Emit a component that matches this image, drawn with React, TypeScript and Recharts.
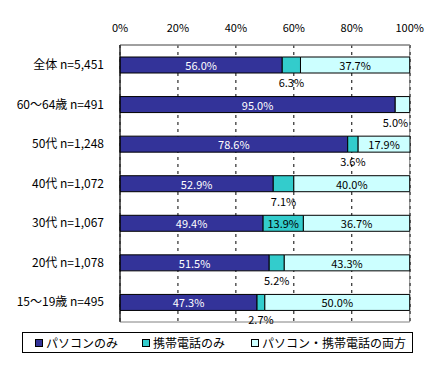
import {
  Bar,
  BarChart,
  CartesianGrid,
  LabelList,
  Legend,
  ReferenceArea,
  XAxis,
  YAxis,
} from "recharts";

const CATEGORIES = [
  "全体 n=5,451",
  "60〜64歳 n=491",
  "50代 n=1,248",
  "40代 n=1,072",
  "30代 n=1,067",
  "20代 n=1,078",
  "15〜19歳 n=495",
];
const PC_ONLY = [56.0, 95.0, 78.6, 52.9, 49.4, 51.5, 47.3];
const MOBILE_ONLY = [6.3, 0, 3.6, 7.1, 13.9, 5.2, 2.7];
const BOTH = [37.7, 5.0, 17.9, 40.0, 36.7, 43.3, 50.0];
const X_TICKS = [0, 20, 40, 60, 80, 100];

const SERIES = [
  { key: "pc", name: "パソコンのみ", color: "#333399" },
  { key: "mobile", name: "携帯電話のみ", color: "#33cccc" },
  { key: "both", name: "パソコン・携帯電話の両方", color: "#ccffff" },
];

const FONT = "'Noto Sans CJK JP', 'Noto Sans', sans-serif";

const rows = CATEGORIES.map((name, i) => ({
  name,
  pc: PC_ONLY[i],
  mobile: MOBILE_ONLY[i],
  both: BOTH[i],
}));

// small segments get their label under the bar instead of inside
function makeLabel(fill: string, shiftSmall = 0) {
  return (props: any) => {
    const { x, y, width, height, value } = props;
    if (!value) return null;
    const small = Number(value) < 10;
    const cx = Number(x) + Number(width) / 2 + (small ? shiftSmall : 0);
    const cy = small ? Number(y) + Number(height) + 9 : Number(y) + Number(height) / 2;
    return (
      <text
        x={cx}
        y={cy}
        fill={small ? "#000" : fill}
        fontSize={11}
        fontFamily={FONT}
        textAnchor="middle"
        dominantBaseline="central"
      >
        {Number(value).toFixed(1)}%
      </text>
    );
  };
}

function LegendBox() {
  const markerLeft = [12, 119, 228];
  return (
    <div style={{ paddingTop: 10, width: 438, fontFamily: FONT }}>
      <div
        style={{
          position: "relative",
          marginLeft: 22,
          width: 389,
          height: 19,
          border: "1px solid #000",
          boxSizing: "content-box",
        }}
      >
        {SERIES.map((s, i) => (
          <div
            key={s.key}
            style={{
              position: "absolute",
              left: markerLeft[i],
              top: 0,
              height: 19,
              display: "flex",
              alignItems: "center",
              gap: 3,
              fontSize: 12,
              color: "#000",
              whiteSpace: "nowrap",
            }}
          >
            <span
              style={{
                width: 6,
                height: 6,
                border: "1px solid #000",
                backgroundColor: s.color,
                display: "inline-block",
              }}
            />
            {s.name}
          </div>
        ))}
      </div>
    </div>
  );
}

export default function App() {
  return (
    <div style={{ width: 438, height: 369, background: "#fff" }}>
      <style>{"body{margin:0}"}</style>
      <BarChart
        width={438}
        height={369}
        data={rows}
        layout="vertical"
        margin={{ top: 0, right: 28, left: 0, bottom: 16 }}
        barSize={16}
      >
        <CartesianGrid horizontal={false} stroke="#000" strokeDasharray="3 4" />
        <ReferenceArea x1={0} x2={100} fill="none" stroke="#808080" ifOverflow="visible" />
        <XAxis
          type="number"
          orientation="top"
          domain={[0, 100]}
          ticks={X_TICKS}
          tickFormatter={(v) => `${v}%`}
          axisLine={{ stroke: "#808080" }}
          tickLine={false}
          tickMargin={7}
          height={45}
          tick={{ fill: "#000", fontSize: 11, fontFamily: FONT }}
          interval={0}
        />
        <YAxis
          type="category"
          dataKey="name"
          width={120}
          axisLine={{ stroke: "#000" }}
          tickLine={false}
          tickMargin={10}
          tick={{ fill: "#000", fontSize: 12, fontFamily: FONT }}
          interval={0}
        />
        <Legend verticalAlign="bottom" align="left" wrapperStyle={{ left: 0, width: 438 }} content={() => <LegendBox />} />
        <Bar dataKey="pc" name={SERIES[0].name} stackId="a" fill={SERIES[0].color} stroke="#000" isAnimationActive={false}>
          <LabelList dataKey="pc" content={makeLabel("#fff")} />
        </Bar>
        <Bar dataKey="mobile" name={SERIES[1].name} stackId="a" fill={SERIES[1].color} stroke="#000" isAnimationActive={false}>
          <LabelList dataKey="mobile" content={makeLabel("#000")} />
        </Bar>
        <Bar dataKey="both" name={SERIES[2].name} stackId="a" fill={SERIES[2].color} stroke="#000" isAnimationActive={false}>
          <LabelList dataKey="both" content={makeLabel("#000", -7)} />
        </Bar>
      </BarChart>
    </div>
  );
}
